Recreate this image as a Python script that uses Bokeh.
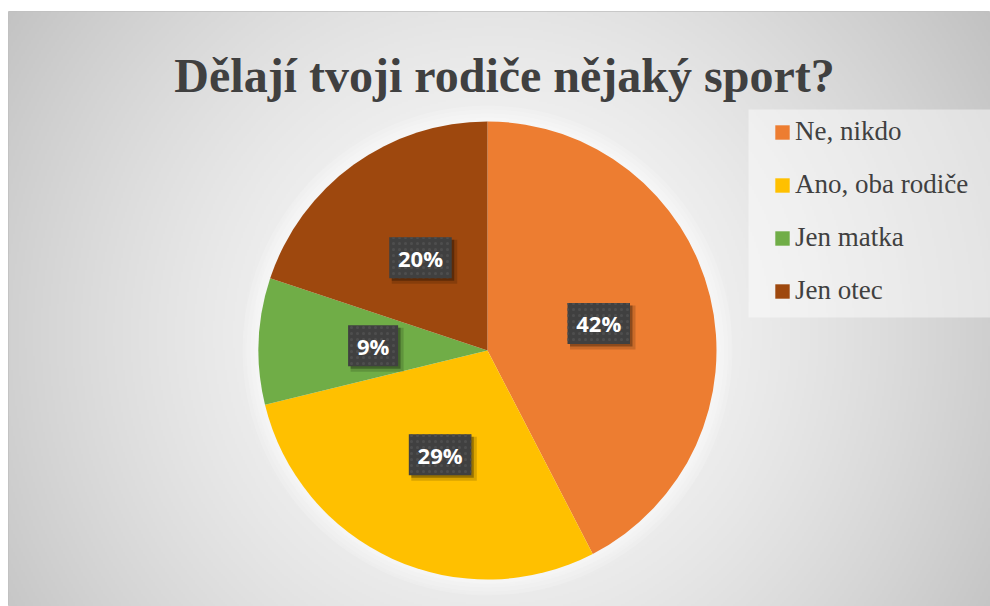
import numpy as np
from bokeh.plotting import figure
from bokeh.models import ColumnDataSource, Legend, LegendItem
from bokeh.core.properties import value
from bokeh.embed import file_html
from bokeh.resources import INLINE

# ---- data ----
title_text = "Dělají tvoji rodiče nějaký sport?"
categories = ["Ne, nikdo", "Ano, oba rodiče", "Jen matka", "Jen otec"]
shares = [42.4, 28.8, 8.9, 19.9]
colors = ["#ED7D31", "#FFC000", "#70AD47", "#9E480E"]

# ---- layout ----
W, H = 990, 606
LEFT, TOP = 8, 11
FW, FH = W - LEFT, H - TOP


def px(page_x):
    return page_x - LEFT


def py(page_y):
    return H - page_y


p = figure(width=W, height=H, x_range=(0, FW), y_range=(0, FH),
           output_backend="svg", toolbar_location=None,
           x_axis_type=None, y_axis_type=None,
           min_border=0, min_border_top=TOP, min_border_left=LEFT,
           min_border_right=0, min_border_bottom=0,
           border_fill_color="white", outline_line_color="#c0c0c0")
p.grid.visible = False

cx, cy = px(487), py(350)
R = 229

# background radial gradient
ny, nx = FH // 2 + 1, FW // 2 + 1
yy, xx = np.mgrid[0:ny, 0:nx]
X = xx * 2.0
Y = yy * 2.0
d = np.hypot(X - px(492), Y - py(335))
c = 252 - 58 * np.clip(d / 590.0, 0, 1.1) ** 1.5
img = np.empty((ny, nx), dtype=np.uint32)
view = img.view(dtype=np.uint8).reshape((ny, nx, 4))
view[..., 0] = c.astype(np.uint8)
view[..., 1] = c.astype(np.uint8)
view[..., 2] = c.astype(np.uint8)
view[..., 3] = 255
p.image_rgba(image=[img], x=0, y=0, dw=FW, dh=FH)

# soft white glow around pie
for k in (4, 8, 12, 16):
    p.circle(x=cx, y=cy, radius=R + k, fill_color="white", fill_alpha=0.16,
             line_color=None)

# legend background panel
p.quad(left=px(748), right=FW + 5, bottom=py(317), top=py(109),
       fill_color="white", fill_alpha=0.45, line_color=None)

# wedges
frac = np.array(shares) / sum(shares)
cum = np.concatenate([[0.0], np.cumsum(frac)])
start = np.pi / 2 - cum[:-1] * 2 * np.pi
end = np.pi / 2 - cum[1:] * 2 * np.pi
src = ColumnDataSource(dict(category=categories, start=start, end=end,
                            color=colors, share=shares))
wr = p.wedge(x=cx, y=cy, radius=R, start_angle="start", end_angle="end",
             direction="clock", fill_color="color", line_color=None,
             source=src)

# data labels
mid = cum[:-1] + frac / 2
ang = np.pi / 2 - mid * 2 * np.pi
lx = cx + 0.5 * R * np.cos(ang)
ly = cy + 0.5 * R * np.sin(ang)
labels = [f"{round(s)}%" for s in shares]
bw = [25 + 12.5 * len(t) for t in labels]
bh = [41] * len(labels)
lsrc = ColumnDataSource(dict(x=lx, y=ly, xs1=lx + 4, ys1=ly - 4,
                             xs2=lx + 2.5, ys2=ly - 2.5,
                             w=bw, h=bh, w2=[b + 3 for b in bw],
                             h2=[b + 3 for b in bh], text=labels))
p.rect(x="xs1", y="ys1", width="w2", height="h2", fill_color="black",
       fill_alpha=0.15, line_color=None, source=lsrc)
p.rect(x="xs2", y="ys2", width="w", height="h", fill_color="black",
       fill_alpha=0.3, line_color=None, source=lsrc)
p.rect(x="x", y="y", width="w", height="h", fill_color="#404040",
       line_color=None, hatch_pattern="dot", hatch_color="#4e4e4e",
       hatch_scale=6, hatch_weight=1.5, source=lsrc)
p.text(x="x", y="y", text="text", text_align="center", text_baseline="middle",
       text_font=value("Open Sans"), text_font_style="bold",
       text_font_size="22px", text_color="white", source=lsrc)

# title
p.text(x=[px(504)], y=[py(75)], text=[title_text], text_align="center",
       text_baseline="alphabetic", text_font=value("Liberation Serif"),
       text_font_style="bold", text_font_size="48px", text_color="#404040")

# legend
legend = Legend(
    items=[LegendItem(label=categories[i], renderers=[wr], index=i)
           for i in range(len(categories))],
    location=(px(773), py(306)),
    orientation="vertical",
    glyph_width=18, glyph_height=18, label_standoff=4,
    label_text_font="Liberation Serif", label_text_font_size="27px",
    label_text_color="#404040", label_height=30, spacing=22,
    padding=0, margin=0, background_fill_alpha=0,
    border_line_color=None,
)
p.add_layout(legend)

open("out.html", "w").write(file_html(p, INLINE))
